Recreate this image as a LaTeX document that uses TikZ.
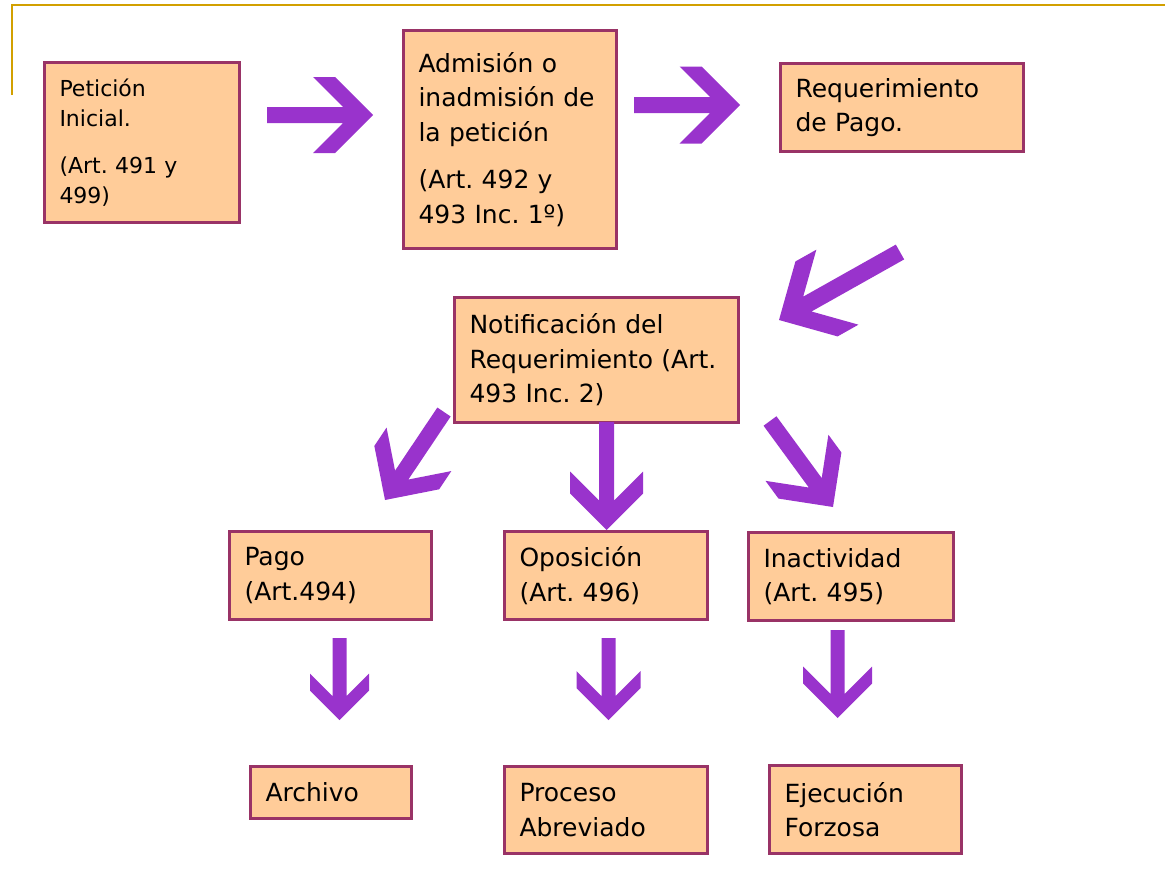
\documentclass[tikz,border=0pt]{standalone}
\usepackage{fontspec}
\setmainfont{DejaVu Sans}
\usetikzlibrary{calc}
\definecolor{cajafondo}{RGB}{255,204,153}
\definecolor{cajaborde}{RGB}{153,51,102}
\definecolor{flecha}{RGB}{153,51,204}
\definecolor{marco}{RGB}{210,160,0}
\tikzset{
  caja/.style 2 args={draw=cajaborde, fill=cajafondo, line width=3pt, align=left,
    inner xsep=15pt, inner ysep=0pt, text width=#1, minimum height=#2,
    font=\fontsize{25}{34.5}\selectfont},
}
% thick arrow: tail, tip, half shaft, half head, cut
\newcommand\fatarrow[5]{%
  \pgfmathsetmacro\hc{#4+#5}%
  \pgfmathsetmacro\cw{#5+#3}%
  \fill[flecha] (#2)
    -- ($(#2)!#4pt!(#1)!#4pt!90:(#1)$)
    -- ($(#2)!\hc pt!(#1)!#4pt!90:(#1)$)
    -- ($(#2)!\cw pt!(#1)!#3pt!90:(#1)$)
    -- ($(#1)!#3pt!-90:(#2)$)
    -- ($(#1)!#3pt!90:(#2)$)
    -- ($(#2)!\cw pt!(#1)!#3pt!-90:(#1)$)
    -- ($(#2)!\hc pt!(#1)!#4pt!-90:(#1)$)
    -- ($(#2)!#4pt!(#1)!#4pt!-90:(#1)$)
    -- cycle;
}
\begin{document}
\frenchspacing
\begin{tikzpicture}[x=1pt,y=-1pt]
\useasboundingbox (0,0) rectangle (1165,878);
\draw[marco, line width=2.5pt] (12,95) -- (12,5) -- (1165,5);
% boxes
\node[caja={165pt}{160pt}, font=\fontsize{22}{30.5}\selectfont] (pet) at (142,142.5)
  {Petición\\Inicial.\\[16pt](Art. 491 y\\499)};
\node[caja={183pt}{218pt}] (adm) at (510,139.5)
  {Admisión o\\inadmisión~de\\la petición\\[13pt](Art. 492 y\\493 Inc. 1º)};
\node[caja={213pt}{88pt}] (req) at (902,107.5) {Requerimiento\\de Pago.};
\node[caja={254pt}{125pt}] (noti) at (596.5,360)
  {Notificación del\\Requerimiento~(Art.\\493 Inc. 2)};
\node[caja={172pt}{88pt}] (pago) at (330.5,575.5) {Pago\\(Art.494)};
\node[caja={173pt}{88pt}] (opo) at (606,575.5) {Oposición\\(Art. 496)};
\node[caja={175pt}{88pt}] (inac) at (851,576.5) {Inactividad\\(Art. 495)};
\node[caja={131pt}{52pt}] (arch) at (331,792.5) {Archivo};
\node[caja={173pt}{87pt}] (proc) at (606,810) {Proceso\\Abreviado};
\node[caja={162pt}{88pt}] (ejec) at (865.5,809.5) {Ejecución\\Forzosa};
% arrow ends
\coordinate (a1t) at (267,115);   \coordinate (a1h) at (373,115);
\coordinate (a2t) at (634,105);   \coordinate (a2h) at (740,105);
\coordinate (a3t) at (900,252);   \coordinate (a3h) at (779,320);
\coordinate (a4t) at (444,412);   \coordinate (a4h) at (385,500);
\coordinate (a5t) at (606.5,422); \coordinate (a5h) at (606.5,530);
\coordinate (a6t) at (770,421);   \coordinate (a6h) at (833,507);
\coordinate (a7t) at (339.5,638); \coordinate (a7h) at (339.5,720);
\coordinate (a8t) at (608.5,638); \coordinate (a8h) at (608.5,720);
\coordinate (a9t) at (837.5,630); \coordinate (a9h) at (837.5,718);
% arrows
\fatarrow{a1t}{a1h}{8}{38}{22}
\fatarrow{a2t}{a2h}{8}{38.5}{22}
\fatarrow{a3t}{a3h}{8.5}{43}{24}
\fatarrow{a4t}{a4h}{8}{39}{22}
\fatarrow{a5t}{a5h}{7.5}{36.5}{22}
\fatarrow{a6t}{a6h}{8}{39}{22}
\fatarrow{a7t}{a7h}{7}{29.5}{17}
\fatarrow{a8t}{a8h}{7}{32}{17}
\fatarrow{a9t}{a9h}{7}{34.5}{17}
\end{tikzpicture}
\end{document}
